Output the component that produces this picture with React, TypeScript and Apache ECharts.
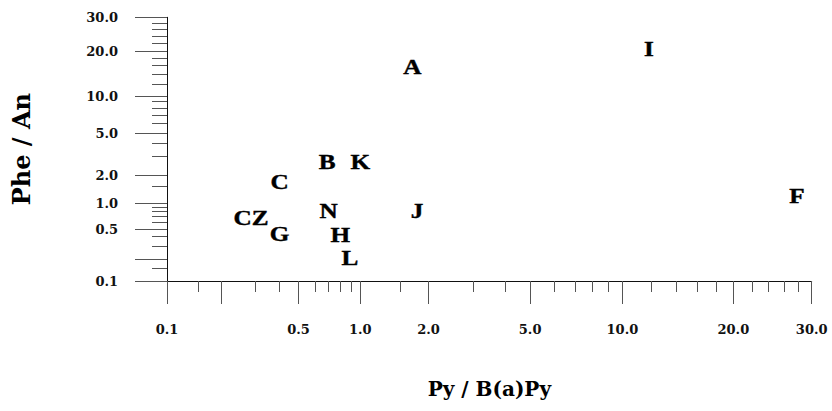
import React, { useEffect, useRef } from "react";
import * as echarts from "echarts";

// Samples: [Py/B(a)Py, Phe/An]
const sampleNames = ["A", "I", "F", "B", "K", "C", "N", "J", "CZ", "G", "H", "L"];
const pyBapy = [1.7, 11.8, 27.8, 0.69, 1.0, 0.4, 0.7, 1.78, 0.285, 0.4, 0.8, 0.89];
const pheAn = [15.8, 20.5, 1.2, 2.67, 2.67, 1.69, 0.82, 0.81, 0.67, 0.43, 0.42, 0.21];

// Axis tick labels
const xTickLabels = ["0.1", "0.5", "1.0", "2.0", "5.0", "10.0", "20.0", "30.0"];
const yTickLabels = ["0.1", "0.5", "1.0", "2.0", "5.0", "10.0", "20.0", "30.0"];

// Major (long) and minor (short) tick values
const xMajorTicks = [0.1, 0.2, 0.5, 1, 2, 5, 10, 20, 30];
const yMajorTicks = [0.1, 0.2, 0.5, 1, 2, 5, 10, 20, 30];
const xMinorTicks = [0.15, 0.3, 0.4, 0.6, 0.7, 0.8, 0.9, 1.5, 3, 4, 6, 7, 8, 9, 12, 14, 16, 18, 22, 24, 26, 28];
const yMinorTicks = [0.15, 0.3, 0.4, 0.6, 0.7, 0.8, 0.9, 1.5, 3, 4, 6, 7, 8, 9, 12, 14, 16, 18, 22, 24, 26, 28];

// The original figure uses a hand-built, piecewise-logarithmic scale:
// axis units assigned to each major tick value (log-interpolated in between)
const xScaleStops = [0, 54, 131.6, 193.3, 261.6, 363.3, 455.6, 566.6, 645];
const yScaleStops = [0, 21.7, 52, 77.7, 106, 148, 185, 229.7, 263.7];

function makeScale(values: number[], units: number[]) {
  return (v: number) => {
    let i = 0;
    while (i < values.length - 2 && v > values[i + 1]) i++;
    const a = values[i];
    const b = values[i + 1];
    const t = Math.log(v / a) / Math.log(b / a);
    return units[i] + t * (units[i + 1] - units[i]);
  };
}

const sx = makeScale(xMajorTicks, xScaleStops);
const sy = makeScale(yMajorTicks, yScaleStops);

function labelFor(labels: string[], scale: (v: number) => number) {
  return (val: number) => {
    for (const l of labels) {
      if (Math.abs(scale(parseFloat(l)) - val) < 0.05) return l;
    }
    return "";
  };
}

const axisColor = "#111";
const tickColor = "#555";
const labelStyle = {
  fontFamily: "DejaVu Serif",
  fontWeight: "bold" as const,
  fontSize: 13,
  color: "#111",
};

export default function App() {
  const ref = useRef<HTMLDivElement>(null);
  useEffect(() => {
    if (!ref.current) return;
    const chart = echarts.init(ref.current, null, { renderer: "svg" });
    const xMax = xScaleStops[xScaleStops.length - 1];
    const yMax = yScaleStops[yScaleStops.length - 1];
    const data = sampleNames.map((n, i) => [sx(pyBapy[i]), sy(pheAn[i]), n]);
    chart.setOption({
      animation: false,
      backgroundColor: "#fff",
      grid: { left: 167, right: 832 - 811.7, top: 17.3, bottom: 411 - 281 },
      xAxis: [
        {
          type: "value",
          min: 0,
          max: xMax,
          position: "bottom",
          name: "Py / B(a)Py",
          nameLocation: "middle",
          nameGap: 98,
          nameTextStyle: { fontFamily: "DejaVu Serif", fontWeight: "bold", fontSize: 20, color: "#000" },
          axisLine: { show: true, lineStyle: { color: axisColor, width: 1 } },
          axisTick: {
            show: true,
            customValues: xMajorTicks.map(sx),
            length: 23,
            lineStyle: { color: tickColor, width: 1 },
          },
          axisLabel: {
            show: true,
            customValues: xTickLabels.map((l) => sx(parseFloat(l))),
            formatter: labelFor(xTickLabels, sx),
            margin: 42,
            ...labelStyle,
          },
          splitLine: { show: false },
        },
        {
          type: "value",
          min: 0,
          max: xMax,
          position: "bottom",
          axisLine: { show: false },
          axisTick: {
            show: true,
            customValues: xMinorTicks.map(sx),
            length: 11,
            lineStyle: { color: tickColor, width: 1 },
          },
          axisLabel: { show: false },
          splitLine: { show: false },
        },
      ],
      yAxis: [
        {
          type: "value",
          min: 0,
          max: yMax,
          position: "left",
          name: "Phe / An",
          nameLocation: "middle",
          nameGap: 134,
          nameTextStyle: { fontFamily: "DejaVu Serif", fontWeight: "bold", fontSize: 24, color: "#000" },
          axisLine: { show: true, lineStyle: { color: axisColor, width: 1 } },
          axisTick: {
            show: true,
            customValues: yMajorTicks.map(sy),
            length: 32,
            lineStyle: { color: tickColor, width: 1 },
          },
          axisLabel: {
            show: true,
            customValues: yTickLabels.map((l) => sy(parseFloat(l))),
            formatter: labelFor(yTickLabels, sy),
            margin: 49,
            ...labelStyle,
          },
          splitLine: { show: false },
        },
        {
          type: "value",
          min: 0,
          max: yMax,
          position: "left",
          axisLine: { show: false },
          axisTick: {
            show: true,
            customValues: yMinorTicks.map(sy),
            length: 15,
            lineStyle: { color: tickColor, width: 1 },
          },
          axisLabel: { show: false },
          splitLine: { show: false },
        },
      ],
      series: [
        {
          type: "custom",
          xAxisIndex: 0,
          yAxisIndex: 0,
          data,
          renderItem: (params: any, api: any) => {
            const p = api.coord([api.value(0), api.value(1)]);
            return {
              type: "text",
              x: p[0],
              y: p[1],
              scaleX: 1.2,
              style: {
                text: sampleNames[params.dataIndex],
                font: 'bold 21px "Liberation Serif"',
                fill: "#000",
                stroke: "#000",
                lineWidth: 0.4,
                align: "center",
                verticalAlign: "middle",
              },
            };
          },
        },
      ],
    });
    return () => chart.dispose();
  }, []);
  return <div ref={ref} style={{ width: 832, height: 411, position: "absolute", left: 0, top: 0 }} />;
}
